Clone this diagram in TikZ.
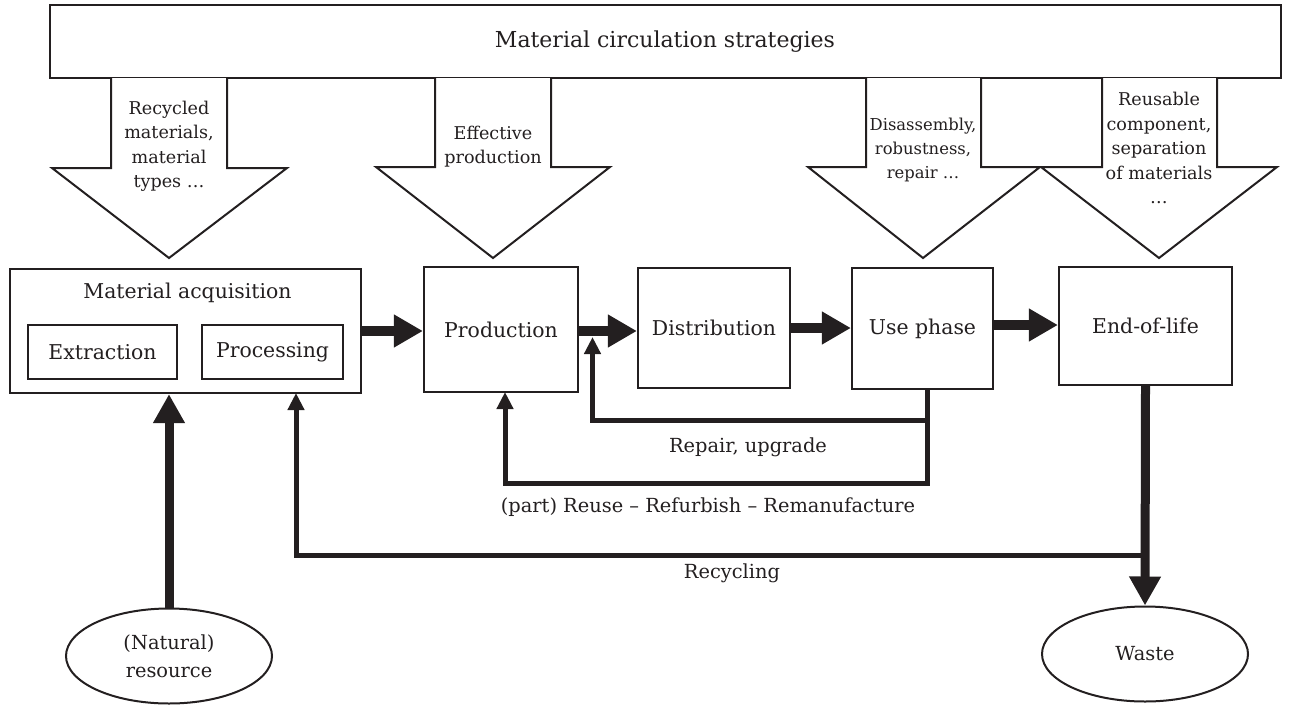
\documentclass[tikz,border=0pt]{standalone}
\usepackage{fontspec}
\setmainfont{DejaVu Serif}
\usetikzlibrary{arrows.meta,shapes.geometric,calc}
\definecolor{ink}{HTML}{231F20}
\tikzset{
  box/.style={draw=ink, line width=2.2pt, fill=white, inner sep=0pt, align=center},
  blockarrow/.style={draw=ink, line width=2pt, line join=miter, fill=white},
  arrowtext/.style={font=\fontsize{17.6}{24.5}\selectfont, align=center, inner sep=0pt, text=ink},
  boxtext/.style={font=\fontsize{20.4}{24}\selectfont, inner sep=0pt, text=ink},
  labeltext/.style={font=\fontsize{19.4}{24}\selectfont, inner sep=0pt, align=center, text=ink},
  flow/.style={draw=ink, line width=10.5pt, -{Triangle[length=29pt,width=31pt]}},
  thickflow/.style={draw=ink, line width=9pt, -{Triangle[length=29pt,width=30pt]}},
  loop/.style={draw=ink, line width=5pt, line join=miter, -{Triangle[length=17pt,width=16pt]}},
  res/.style={draw=ink, line width=2pt, ellipse, inner sep=0pt, align=center, minimum width=206pt, minimum height=95pt, font=\fontsize{19.4}{28}\selectfont, text=ink}
}
\begin{document}
\begin{tikzpicture}[x=1pt,y=-1pt]
\useasboundingbox (0,0) rectangle (1289,704);

% top box
\node[box, minimum width=1231pt, minimum height=73pt] (top) at (665.5,41.5) {};
\node[font=\fontsize{22}{26}\selectfont, inner sep=0pt, text=ink] (toptext) at (665,42) {Material circulation strategies};

% block arrows
\draw[blockarrow] (111,78) -- (111,168) -- (52,168) -- (169,258) -- (287,168) -- (227,168) -- (227,78);
\node[arrowtext] (a1) at (169,146.5) {Recycled\\materials,\\material\\types \ldots};

\draw[blockarrow] (435,78) -- (435,167) -- (376,167) -- (493,258) -- (610,167) -- (551,167) -- (551,78);
\node[arrowtext] (a2) at (493,146.5) {Effective\\production};

\draw[blockarrow] (866,78) -- (866,167) -- (808,167) -- (923,258) -- (1040,167) -- (981,167) -- (981,78);
\node[arrowtext, font=\fontsize{16.4}{24}\selectfont] (a3) at (923,150) {Disassembly,\\robustness,\\repair \ldots};

\draw[blockarrow] (1102,78) -- (1102,167) -- (1041,167) -- (1159,258) -- (1277,167) -- (1217,167) -- (1217,78);
\node[arrowtext] (a4) at (1159,148) {Reusable\\component,\\separation\\of materials\\\ldots};

% boxes
\node[box, minimum width=351pt, minimum height=124pt] (macq) at (185.5,331) {};
\node[boxtext] (macqt) at (187.5,293) {Material acquisition};
\node[box, minimum width=149pt, minimum height=54pt, boxtext] (extr) at (102.5,352) {Extraction};
\node[box, minimum width=141pt, minimum height=54pt, boxtext] (proc) at (272.5,352) {Processing};

\node[box, minimum width=154pt, minimum height=125pt, boxtext] (prod) at (501,329.5) {Production};
\node[box, minimum width=152pt, minimum height=120pt, boxtext] (dist) at (714,328) {Distribution};
\node[box, minimum width=141pt, minimum height=121pt, boxtext] (use) at (922.5,328.5) {Use phase};
\node[box, minimum width=173pt, minimum height=118pt, boxtext] (eol) at (1145.5,326) {End-of-life};

% ellipses
\node[res] (nat) at (169,656) {(Natural)\\resource};
\node[res] (waste) at (1145,654) {Waste};

% main flow
\draw[flow] (macq.east |- 0,331) -- (prod.west |- 0,331);
\draw[flow] (prod.east |- 0,331) -- (dist.west |- 0,331);
\draw[flow] (dist.east |- 0,328) -- (use.west |- 0,328);
\draw[flow] (use.east |- 0,325) -- (eol.west |- 0,325);

% vertical flows
\draw[thickflow] (nat.north) -- (nat.north |- macq.south);
\draw[thickflow] (eol.south) -- (waste.north);

% recycling
\coordinate (rj) at (eol.south |- 0,555.5);
\draw[loop] (rj) -| (296,393) coordinate (rt);
\node[labeltext] (rl) at (732,573) {Recycling};

% reuse loop
\coordinate (us) at ($(use.south)+(4.5,0)$);
\draw[loop] (us) |- (505,483) -- (505,392);
\node[labeltext] (rul) at (708,507) {(part) Reuse – Refurbish – Remanufacture};

% repair loop
\coordinate (rp) at (us |- 0,420.5);
\draw[loop] (rp) -| (592.5,337);
\node[labeltext] (repl) at (748,447) {Repair, upgrade};
\end{tikzpicture}
\end{document}
